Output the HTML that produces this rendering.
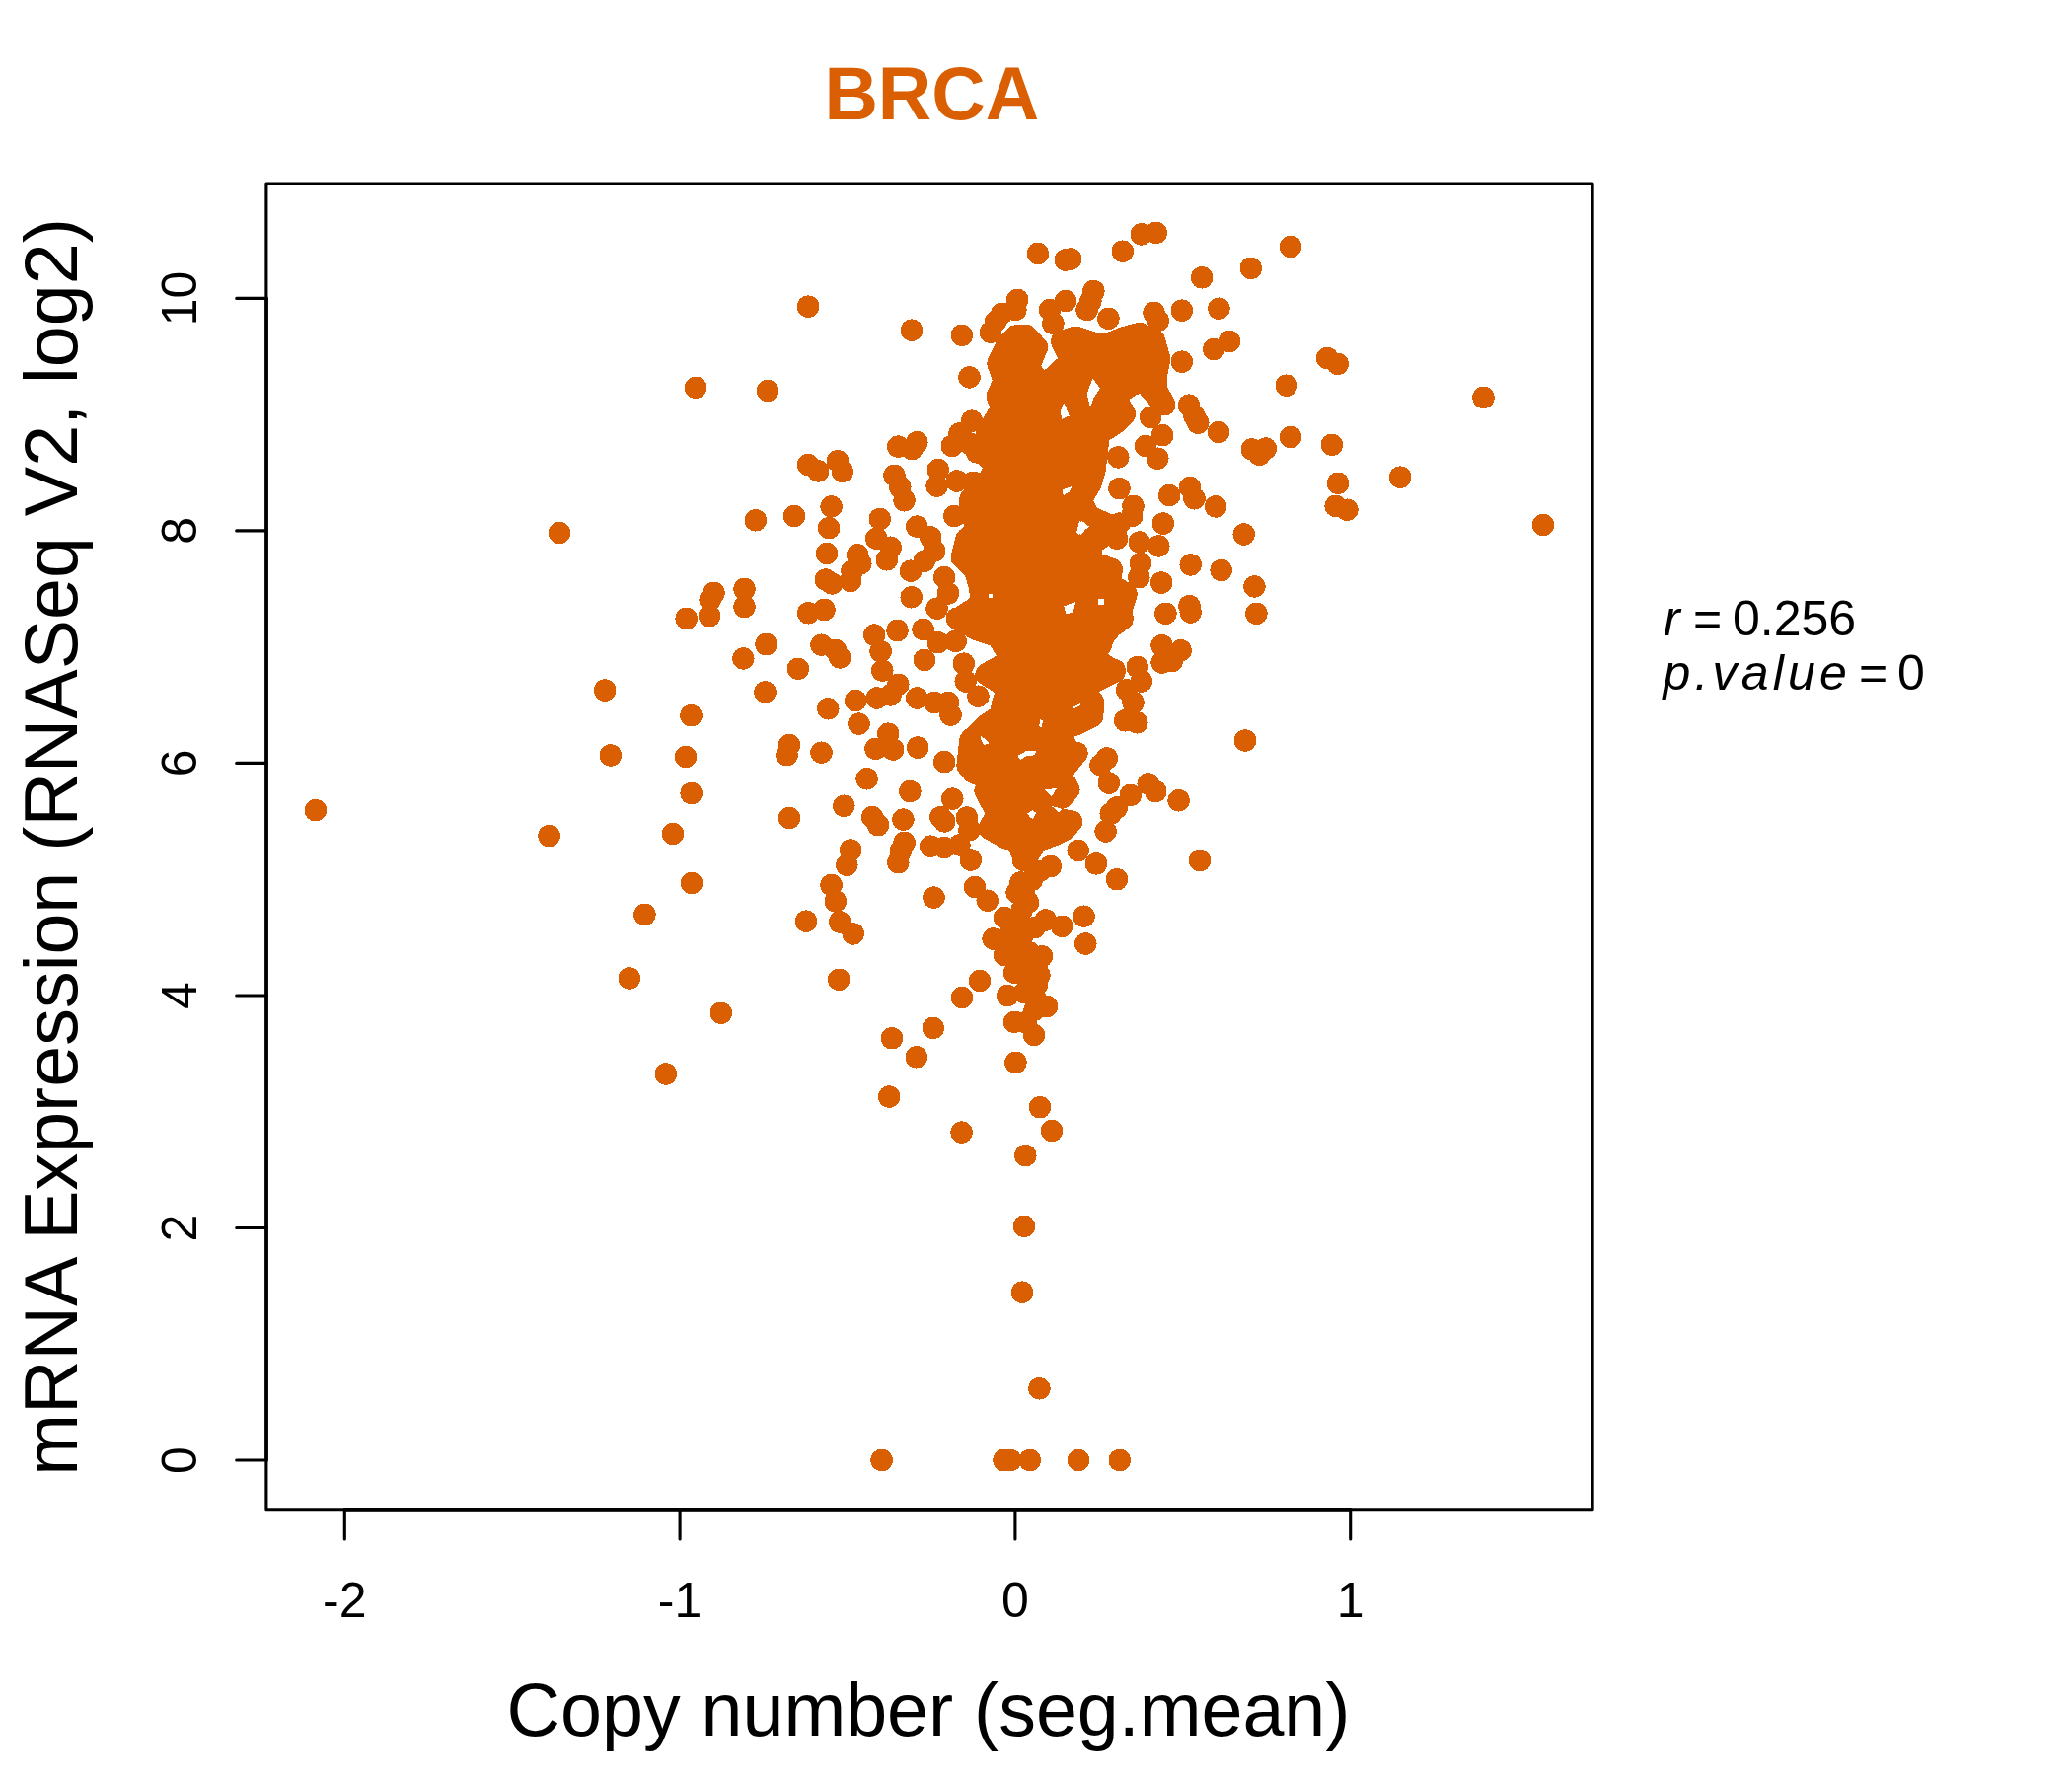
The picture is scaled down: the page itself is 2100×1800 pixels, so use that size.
<!DOCTYPE html>
<html><head><meta charset="utf-8"><title>BRCA</title>
<style>
html,body{margin:0;padding:0;background:#fff;}
body{width:2100px;height:1800px;overflow:hidden;position:relative;font-family:"Liberation Sans",sans-serif;}
svg{position:absolute;left:0;top:0;}
text{font-family:"Liberation Sans",sans-serif;fill:#000;}
</style></head><body>
<svg width="2100" height="1800" viewBox="0 0 2100 1800">
<rect x="0" y="0" width="2100" height="1800" fill="#fff"/>
<g fill="#D95F02" shape-rendering="crispEdges"><path d="M1029.4 340.6 L1039.5 339.8 L1050.9 352.0 L1041.8 373.5 L1058.5 390.7 L1085.9 365.6 L1076.2 346.1 L1090.2 341.8 L1109.2 348.2 L1124.4 348.2 L1138.3 342.6 L1154.8 338.0 L1169.5 344.4 L1175.1 363.4 L1171.3 383.6 L1172.5 396.3 L1180.1 410.2 L1159.9 387.4 L1148.6 388.9 L1129.3 401.6 L1139.9 419.6 L1131.2 428.3 L1120.8 435.3 L1110.9 438.8 L1112.7 449.2 L1109.2 477.4 L1105.4 490.1 L1095.1 507.0 L1104.0 523.2 L1121.4 531.3 L1131.8 534.8 L1106.3 551.0 L1105.7 569.6 L1126.0 576.6 L1126.0 592.8 L1141.5 602.1 L1137.0 616.0 L1137.4 627.6 L1126.0 635.7 L1117.9 646.1 L1115.6 654.3 L1105.7 660.1 L1110.9 668.2 L1129.5 680.9 L1110.9 690.2 L1097.0 697.2 L1108.2 712.0 L1107.0 726.0 L1090.8 734.1 L1075.7 738.7 L1079.2 755.0 L1086.1 762.5 L1091.4 763.1 L1079.2 778.2 L1073.4 782.8 L1083.2 800.2 L1076.9 808.3 L1056.0 813.0 L1067.6 829.2 L1086.1 832.7 L1079.2 840.8 L1070.5 845.4 L1051.4 852.4 L1038.6 870.9 L1030.5 852.4 L1018.9 848.9 L1002.6 839.6 L1011.9 823.4 L1006.1 815.3 L998.6 801.4 L1009.6 792.1 L986.4 782.8 L980.6 775.8 L983.5 750.3 L999.2 735.2 L1014.2 724.8 L1016.6 712.0 L1021.6 697.2 L999.6 683.3 L1020.5 671.7 L1021.6 662.4 L1011.2 645.0 L990.3 638.0 L970.6 627.6 L988.8 616.0 L995.0 607.9 L992.6 592.8 L988.0 577.7 L974.9 565.0 L979.5 546.4 L991.5 534.8 L983.6 520.9 L983.6 505.8 L995.2 523.0 L983.8 505.8 L997.7 493.9 L1010.4 472.3 L995.2 458.4 L1000.2 439.4 L1015.4 414.0 L1010.9 401.4 L1018.0 386.2 L1011.6 368.4 L1020.5 350.7Z" stroke="#D95F02" stroke-width="22.5" stroke-linejoin="round"/><g fill="#fff"><path d="M1107.3 383.6 L1115.1 393.6 L1108.4 403.6 L1105.0 412.6 L1101.7 399.2Z"/><path d="M1078.3 408.1 L1083.9 421.5 L1076.0 424.8 L1074.9 417.0Z"/><path d="M1096.1 527.4 L1102.8 533.0 L1096.1 541.9 L1092.8 539.7Z"/><path d="M1078.3 614.4 L1090.5 609.9 L1087.2 621.0 L1080.5 622.2Z"/><path d="M1112.8 606.6 L1119.1 607.0 L1119.5 613.2 L1113.3 612.8Z"/><path d="M1077.2 496.2 L1086.1 493.3 L1083.9 498.4 L1077.6 502.2Z"/><path d="M993.9 745.1 L1002.6 753.2 L997.4 755.0 L994.5 750.3Z"/><path d="M1031.1 766.0 L1039.8 761.3 L1050.2 760.8 L1048.5 765.4 L1040.9 766.0 L1034.5 770.0Z"/><path d="M1054.3 729.4 L1057.2 730.0 L1055.4 737.0 L1053.1 736.4Z"/><path d="M1058.9 800.2 L1071.1 799.0 L1065.9 807.2 L1063.0 804.8Z"/><path d="M1065.9 817.0 L1076.9 819.9 L1073.4 823.4Z"/><path d="M1041.5 824.5 L1046.1 821.1 L1050.0 823.4 L1047.3 829.8 L1044.4 829.2Z"/><path d="M1086.7 717.3 L1094.8 713.2 L1095.4 714.9 L1087.3 719.0Z"/><path d="M1094.1 527.8 L1104.0 533.6 L1093.5 541.8 L1091.2 539.4Z"/><path d="M1001.9 602.1 L1006.0 602.1 L1006.0 605.6 L1002.5 605.6Z"/></g><circle cx="705.1" cy="392.8" r="11.25"/><circle cx="778.0" cy="396.1" r="11.25"/><circle cx="765.9" cy="527.3" r="11.25"/><circle cx="567.0" cy="540.0" r="11.25"/><circle cx="754.5" cy="597.0" r="11.25"/><circle cx="754.5" cy="615.0" r="11.25"/><circle cx="723.5" cy="601.0" r="11.25"/><circle cx="719.7" cy="607.9" r="11.25"/><circle cx="719.0" cy="624.3" r="11.25"/><circle cx="695.7" cy="626.9" r="11.25"/><circle cx="819.1" cy="310.7" r="11.25"/><circle cx="924.0" cy="334.7" r="11.25"/><circle cx="974.9" cy="339.8" r="11.25"/><circle cx="982.5" cy="382.4" r="11.25"/><circle cx="1051.9" cy="256.9" r="11.25"/><circle cx="1079.8" cy="263.5" r="11.25"/><circle cx="1085.1" cy="262.5" r="11.25"/><circle cx="1137.8" cy="254.7" r="11.25"/><circle cx="1156.8" cy="237.4" r="11.25"/><circle cx="1171.8" cy="235.9" r="11.25"/><circle cx="1308.1" cy="249.9" r="11.25"/><circle cx="1267.8" cy="271.9" r="11.25"/><circle cx="1218.1" cy="281.3" r="11.25"/><circle cx="1235.4" cy="312.7" r="11.25"/><circle cx="1197.9" cy="314.7" r="11.25"/><circle cx="1169.5" cy="317.0" r="11.25"/><circle cx="1173.8" cy="324.9" r="11.25"/><circle cx="1123.4" cy="322.8" r="11.25"/><circle cx="1108.4" cy="295.0" r="11.25"/><circle cx="1105.4" cy="305.1" r="11.25"/><circle cx="1101.6" cy="314.0" r="11.25"/><circle cx="1080.1" cy="305.1" r="11.25"/><circle cx="1064.1" cy="314.0" r="11.25"/><circle cx="1067.4" cy="327.9" r="11.25"/><circle cx="1031.1" cy="303.8" r="11.25"/><circle cx="1029.4" cy="314.0" r="11.25"/><circle cx="1015.4" cy="317.8" r="11.25"/><circle cx="1009.1" cy="325.9" r="11.25"/><circle cx="1004.0" cy="336.8" r="11.25"/><circle cx="1246.0" cy="346.1" r="11.25"/><circle cx="1230.3" cy="354.0" r="11.25"/><circle cx="1197.9" cy="366.7" r="11.25"/><circle cx="1303.8" cy="390.7" r="11.25"/><circle cx="1205.0" cy="410.7" r="11.25"/><circle cx="1210.5" cy="421.6" r="11.25"/><circle cx="1214.3" cy="428.7" r="11.25"/><circle cx="1235.1" cy="438.1" r="11.25"/><circle cx="1308.1" cy="442.9" r="11.25"/><circle cx="1268.8" cy="455.3" r="11.25"/><circle cx="1282.8" cy="454.6" r="11.25"/><circle cx="1276.4" cy="460.9" r="11.25"/><circle cx="1166.2" cy="422.9" r="11.25"/><circle cx="1180.1" cy="410.2" r="11.25"/><circle cx="1178.1" cy="441.2" r="11.25"/><circle cx="1161.1" cy="452.0" r="11.25"/><circle cx="1173.3" cy="464.7" r="11.25"/><circle cx="1133.3" cy="463.4" r="11.25"/><circle cx="1134.5" cy="495.1" r="11.25"/><circle cx="1206.0" cy="493.9" r="11.25"/><circle cx="1210.5" cy="505.3" r="11.25"/><circle cx="1185.2" cy="502.0" r="11.25"/><circle cx="1232.1" cy="513.4" r="11.25"/><circle cx="1178.9" cy="530.6" r="11.25"/><circle cx="1260.7" cy="541.5" r="11.25"/><circle cx="1148.5" cy="512.9" r="11.25"/><circle cx="1147.2" cy="523.0" r="11.25"/><circle cx="1134.5" cy="530.6" r="11.25"/><circle cx="1132.0" cy="545.8" r="11.25"/><circle cx="1154.8" cy="549.6" r="11.25"/><circle cx="1174.3" cy="553.4" r="11.25"/><circle cx="1156.1" cy="571.1" r="11.25"/><circle cx="1154.3" cy="585.1" r="11.25"/><circle cx="1126.9" cy="577.5" r="11.25"/><circle cx="1206.7" cy="572.4" r="11.25"/><circle cx="1237.7" cy="578.0" r="11.25"/><circle cx="1177.1" cy="590.6" r="11.25"/><circle cx="1271.4" cy="594.4" r="11.25"/><circle cx="1205.5" cy="614.2" r="11.25"/><circle cx="1206.7" cy="620.5" r="11.25"/><circle cx="1181.4" cy="621.8" r="11.25"/><circle cx="1273.4" cy="621.8" r="11.25"/><circle cx="1139.6" cy="604.1" r="11.25"/><circle cx="1137.1" cy="621.8" r="11.25"/><circle cx="910.3" cy="452.6" r="11.25"/><circle cx="924.2" cy="455.1" r="11.25"/><circle cx="929.3" cy="448.2" r="11.25"/><circle cx="819.1" cy="471.1" r="11.25"/><circle cx="829.2" cy="477.4" r="11.25"/><circle cx="849.0" cy="467.2" r="11.25"/><circle cx="853.8" cy="477.9" r="11.25"/><circle cx="906.5" cy="481.9" r="11.25"/><circle cx="912.3" cy="493.9" r="11.25"/><circle cx="916.6" cy="507.3" r="11.25"/><circle cx="950.8" cy="476.1" r="11.25"/><circle cx="949.6" cy="492.6" r="11.25"/><circle cx="969.8" cy="487.5" r="11.25"/><circle cx="986.3" cy="488.8" r="11.25"/><circle cx="842.6" cy="513.4" r="11.25"/><circle cx="805.1" cy="523.0" r="11.25"/><circle cx="840.1" cy="535.2" r="11.25"/><circle cx="891.8" cy="526.0" r="11.25"/><circle cx="888.2" cy="545.8" r="11.25"/><circle cx="902.7" cy="554.7" r="11.25"/><circle cx="898.9" cy="567.3" r="11.25"/><circle cx="929.3" cy="533.6" r="11.25"/><circle cx="943.2" cy="544.5" r="11.25"/><circle cx="947.0" cy="558.5" r="11.25"/><circle cx="936.9" cy="568.6" r="11.25"/><circle cx="923.0" cy="578.7" r="11.25"/><circle cx="967.3" cy="523.0" r="11.25"/><circle cx="838.1" cy="561.0" r="11.25"/><circle cx="869.2" cy="562.3" r="11.25"/><circle cx="872.3" cy="571.1" r="11.25"/><circle cx="863.4" cy="578.7" r="11.25"/><circle cx="862.1" cy="588.9" r="11.25"/><circle cx="836.8" cy="587.6" r="11.25"/><circle cx="843.1" cy="591.4" r="11.25"/><circle cx="923.7" cy="605.3" r="11.25"/><circle cx="819.1" cy="621.3" r="11.25"/><circle cx="835.5" cy="618.0" r="11.25"/><circle cx="957.2" cy="585.1" r="11.25"/><circle cx="961.0" cy="601.5" r="11.25"/><circle cx="949.6" cy="616.7" r="11.25"/><circle cx="969.8" cy="626.9" r="11.25"/><circle cx="985.0" cy="426.7" r="11.25"/><circle cx="972.4" cy="439.4" r="11.25"/><circle cx="964.8" cy="452.0" r="11.25"/><circle cx="982.5" cy="449.5" r="11.25"/><circle cx="990.1" cy="458.4" r="11.25"/><circle cx="832.5" cy="653.7" r="11.25"/><circle cx="846.9" cy="658.8" r="11.25"/><circle cx="851.2" cy="666.4" r="11.25"/><circle cx="808.9" cy="677.8" r="11.25"/><circle cx="886.2" cy="643.6" r="11.25"/><circle cx="892.6" cy="660.1" r="11.25"/><circle cx="894.3" cy="679.6" r="11.25"/><circle cx="909.5" cy="639.0" r="11.25"/><circle cx="935.6" cy="638.0" r="11.25"/><circle cx="950.8" cy="651.2" r="11.25"/><circle cx="968.6" cy="649.9" r="11.25"/><circle cx="936.9" cy="668.9" r="11.25"/><circle cx="976.9" cy="672.7" r="11.25"/><circle cx="978.7" cy="690.5" r="11.25"/><circle cx="991.4" cy="705.7" r="11.25"/><circle cx="910.3" cy="693.8" r="11.25"/><circle cx="902.7" cy="704.4" r="11.25"/><circle cx="888.8" cy="707.5" r="11.25"/><circle cx="867.2" cy="710.0" r="11.25"/><circle cx="929.3" cy="707.5" r="11.25"/><circle cx="947.0" cy="712.0" r="11.25"/><circle cx="961.0" cy="712.0" r="11.25"/><circle cx="963.5" cy="724.7" r="11.25"/><circle cx="839.3" cy="718.3" r="11.25"/><circle cx="870.5" cy="733.6" r="11.25"/><circle cx="900.2" cy="743.7" r="11.25"/><circle cx="887.5" cy="758.9" r="11.25"/><circle cx="905.2" cy="759.6" r="11.25"/><circle cx="930.1" cy="757.6" r="11.25"/><circle cx="800.1" cy="755.1" r="11.25"/><circle cx="797.5" cy="765.2" r="11.25"/><circle cx="832.5" cy="762.7" r="11.25"/><circle cx="957.2" cy="772.1" r="11.25"/><circle cx="878.6" cy="789.3" r="11.25"/><circle cx="922.4" cy="802.0" r="11.25"/><circle cx="965.3" cy="809.6" r="11.25"/><circle cx="855.3" cy="816.7" r="11.25"/><circle cx="800.1" cy="829.1" r="11.25"/><circle cx="884.2" cy="828.1" r="11.25"/><circle cx="890.0" cy="836.2" r="11.25"/><circle cx="915.4" cy="830.6" r="11.25"/><circle cx="953.4" cy="828.1" r="11.25"/><circle cx="957.2" cy="832.4" r="11.25"/><circle cx="980.0" cy="828.6" r="11.25"/><circle cx="982.5" cy="841.2" r="11.25"/><circle cx="916.6" cy="853.9" r="11.25"/><circle cx="912.8" cy="862.8" r="11.25"/><circle cx="910.3" cy="874.2" r="11.25"/><circle cx="862.1" cy="861.5" r="11.25"/><circle cx="858.3" cy="876.7" r="11.25"/><circle cx="943.2" cy="857.7" r="11.25"/><circle cx="957.2" cy="859.0" r="11.25"/><circle cx="972.4" cy="856.4" r="11.25"/><circle cx="983.8" cy="871.6" r="11.25"/><circle cx="842.6" cy="897.0" r="11.25"/><circle cx="846.9" cy="913.4" r="11.25"/><circle cx="851.2" cy="934.5" r="11.25"/><circle cx="864.7" cy="946.4" r="11.25"/><circle cx="817.0" cy="933.7" r="11.25"/><circle cx="946.5" cy="909.6" r="11.25"/><circle cx="988.1" cy="899.0" r="11.25"/><circle cx="1000.7" cy="912.7" r="11.25"/><circle cx="850.2" cy="992.8" r="11.25"/><circle cx="993.1" cy="994.0" r="11.25"/><circle cx="974.9" cy="1011.0" r="11.25"/><circle cx="945.8" cy="1041.9" r="11.25"/><circle cx="904.0" cy="1052.3" r="11.25"/><circle cx="928.8" cy="1071.3" r="11.25"/><circle cx="1029.4" cy="1076.9" r="11.25"/><circle cx="1177.6" cy="654.2" r="11.25"/><circle cx="1196.6" cy="659.3" r="11.25"/><circle cx="1177.6" cy="671.5" r="11.25"/><circle cx="1187.7" cy="670.2" r="11.25"/><circle cx="1152.8" cy="676.0" r="11.25"/><circle cx="1156.8" cy="690.5" r="11.25"/><circle cx="1142.1" cy="699.3" r="11.25"/><circle cx="1148.5" cy="712.0" r="11.25"/><circle cx="1140.1" cy="730.3" r="11.25"/><circle cx="1152.3" cy="732.3" r="11.25"/><circle cx="1129.5" cy="679.1" r="11.25"/><circle cx="1262.0" cy="750.5" r="11.25"/><circle cx="1121.9" cy="768.5" r="11.25"/><circle cx="1115.5" cy="775.4" r="11.25"/><circle cx="1123.9" cy="793.6" r="11.25"/><circle cx="1163.7" cy="794.4" r="11.25"/><circle cx="1171.3" cy="802.0" r="11.25"/><circle cx="1145.9" cy="805.8" r="11.25"/><circle cx="1132.0" cy="818.4" r="11.25"/><circle cx="1125.7" cy="824.8" r="11.25"/><circle cx="1120.6" cy="842.5" r="11.25"/><circle cx="1194.6" cy="811.3" r="11.25"/><circle cx="1092.7" cy="862.0" r="11.25"/><circle cx="1111.0" cy="875.4" r="11.25"/><circle cx="1132.0" cy="891.2" r="11.25"/><circle cx="1216.1" cy="872.1" r="11.25"/><circle cx="1098.5" cy="928.7" r="11.25"/><circle cx="1076.2" cy="938.8" r="11.25"/><circle cx="1059.8" cy="932.5" r="11.25"/><circle cx="1100.3" cy="956.5" r="11.25"/><circle cx="1039.5" cy="859.0" r="11.25"/><circle cx="1037.0" cy="871.6" r="11.25"/><circle cx="1064.8" cy="878.0" r="11.25"/><circle cx="1053.4" cy="883.0" r="11.25"/><circle cx="1034.4" cy="894.4" r="11.25"/><circle cx="1045.8" cy="891.9" r="11.25"/><circle cx="1030.6" cy="904.6" r="11.25"/><circle cx="1042.0" cy="914.7" r="11.25"/><circle cx="1038.2" cy="904.6" r="11.25"/><circle cx="1018.0" cy="929.9" r="11.25"/><circle cx="1030.6" cy="932.5" r="11.25"/><circle cx="1048.4" cy="940.1" r="11.25"/><circle cx="1035.7" cy="922.3" r="11.25"/><circle cx="1038.2" cy="945.1" r="11.25"/><circle cx="1006.6" cy="951.5" r="11.25"/><circle cx="1018.0" cy="967.9" r="11.25"/><circle cx="1033.2" cy="960.3" r="11.25"/><circle cx="1056.0" cy="969.2" r="11.25"/><circle cx="1043.3" cy="965.4" r="11.25"/><circle cx="1028.1" cy="985.7" r="11.25"/><circle cx="1053.4" cy="988.2" r="11.25"/><circle cx="1021.3" cy="1009.0" r="11.25"/><circle cx="1048.4" cy="1008.5" r="11.25"/><circle cx="1038.2" cy="1005.9" r="11.25"/><circle cx="1061.0" cy="1019.9" r="11.25"/><circle cx="1048.4" cy="1023.7" r="11.25"/><circle cx="1028.1" cy="1035.8" r="11.25"/><circle cx="1039.5" cy="1036.3" r="11.25"/><circle cx="1047.9" cy="1049.0" r="11.25"/><circle cx="1023.0" cy="947.7" r="11.25"/><circle cx="1030.6" cy="973.0" r="11.25"/><circle cx="1050.9" cy="978.1" r="11.25"/><circle cx="1040.8" cy="990.7" r="11.25"/><circle cx="1050.9" cy="998.3" r="11.25"/><circle cx="901.2" cy="1111.6" r="11.25"/><circle cx="1054.0" cy="1122.2" r="11.25"/><circle cx="1066.1" cy="1146.1" r="11.25"/><circle cx="974.6" cy="1147.6" r="11.25"/><circle cx="1039.3" cy="1171.1" r="11.25"/><circle cx="1038.0" cy="1242.8" r="11.25"/><circle cx="1036.0" cy="1309.7" r="11.25"/><circle cx="1053.4" cy="1407.3" r="11.25"/><circle cx="893.6" cy="1480.0" r="11.25"/><circle cx="1017.5" cy="1480.0" r="11.25"/><circle cx="1024.3" cy="1480.0" r="11.25"/><circle cx="1043.8" cy="1480.0" r="11.25"/><circle cx="1093.0" cy="1480.0" r="11.25"/><circle cx="1134.8" cy="1480.0" r="11.25"/><circle cx="776.5" cy="653.0" r="11.25"/><circle cx="753.4" cy="667.4" r="11.25"/><circle cx="613.1" cy="699.6" r="11.25"/><circle cx="775.5" cy="701.4" r="11.25"/><circle cx="700.5" cy="725.2" r="11.25"/><circle cx="618.9" cy="765.5" r="11.25"/><circle cx="694.9" cy="767.0" r="11.25"/><circle cx="700.7" cy="804.0" r="11.25"/><circle cx="319.9" cy="821.2" r="11.25"/><circle cx="556.6" cy="847.1" r="11.25"/><circle cx="682.0" cy="845.0" r="11.25"/><circle cx="701.0" cy="895.0" r="11.25"/><circle cx="653.4" cy="926.9" r="11.25"/><circle cx="637.9" cy="991.5" r="11.25"/><circle cx="730.9" cy="1026.7" r="11.25"/><circle cx="674.9" cy="1088.5" r="11.25"/><circle cx="1345.1" cy="362.9" r="11.25"/><circle cx="1355.7" cy="368.9" r="11.25"/><circle cx="1503.5" cy="402.9" r="11.25"/><circle cx="1349.9" cy="450.8" r="11.25"/><circle cx="1356.0" cy="489.8" r="11.25"/><circle cx="1419.1" cy="483.7" r="11.25"/><circle cx="1353.7" cy="512.9" r="11.25"/><circle cx="1365.4" cy="516.7" r="11.25"/><circle cx="1564.0" cy="532.1" r="11.25"/></g>
<g stroke="#000" stroke-width="3.1" fill="none" stroke-linecap="round" stroke-linejoin="round">
<rect x="269.9" y="186" width="1344.2" height="1343.8"/>
<path d="M349.3 1529.8V1560M689.1 1529.8V1560M1028.9 1529.8V1560M1368.7 1529.8V1560"/><path d="M349.3 1529.9H1368.7M270.1 1480V302.4" stroke-width="3.6"/>
<path d="M270 1480H239.7M270 1244.5H239.7M270 1009H239.7M270 773.4H239.7M270 537.9H239.7M270 302.4H239.7"/>
</g>
<text x="944.3" y="120.6" font-size="75.4" font-weight="bold" text-anchor="middle" style="fill:#D95F02">BRCA</text>
<g font-size="50" text-anchor="middle">
<text x="349.3" y="1638.8">-2</text><text x="689.1" y="1638.8">-1</text><text x="1028.9" y="1638.8">0</text><text x="1368.7" y="1638.8">1</text>
</g>
<g font-size="50" text-anchor="middle">
<text transform="translate(199 1480) rotate(-90)">0</text>
<text transform="translate(199 1244.5) rotate(-90)">2</text>
<text transform="translate(199 1009) rotate(-90)">4</text>
<text transform="translate(199 773.4) rotate(-90)">6</text>
<text transform="translate(199 537.9) rotate(-90)">8</text>
<text transform="translate(199 302.4) rotate(-90)">10</text>
</g>
<text x="941" y="1759.2" font-size="75.4" text-anchor="middle">Copy number (seg.mean)</text>
<text transform="translate(78.2 858.5) rotate(-90)" font-size="75.45" text-anchor="middle">mRNA Expression (RNASeq V2, log2)</text>
<g font-size="50">
<text x="1686" y="643.8"><tspan font-style="italic">r</tspan></text>
<text x="1716" y="643.8">=</text>
<text x="1756" y="643.8">0.256</text>
<text x="1685.5" y="698.9" font-style="italic" letter-spacing="4.2">p.value</text>
<text x="1884" y="698.9">=</text>
<text x="1923" y="698.9">0</text>
</g>
</svg>
</body></html>
